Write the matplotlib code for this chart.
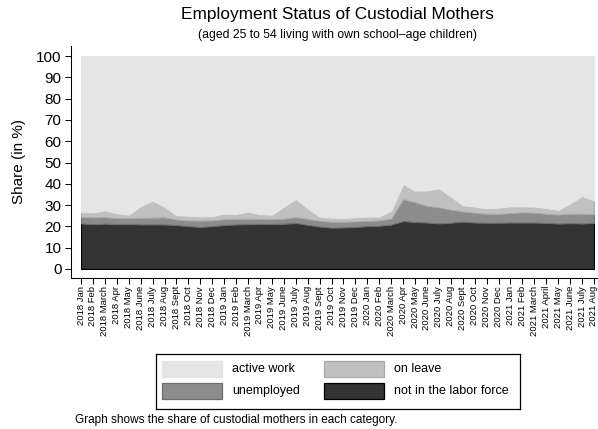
import matplotlib
matplotlib.use("Agg")
import matplotlib.pyplot as plt
from matplotlib.patches import Rectangle

plt.rcParams["font.family"] = ["Liberation Sans", "DejaVu Sans"]

months = [
    "2018 Jan", "2018 Feb", "2018 March", "2018 Apr", "2018 May", "2018 June",
    "2018 July", "2018 Aug", "2018 Sept", "2018 Oct", "2018 Nov", "2018 Dec",
    "2019 Jan", "2019 Feb", "2019 March", "2019 Apr", "2019 May", "2019 June",
    "2019 July", "2019 Aug", "2019 Sept", "2019 Oct", "2019 Nov", "2019 Dec",
    "2020 Jan", "2020 Feb", "2020 March", "2020 Apr", "2020 May", "2020 June",
    "2020 July", "2020 Aug", "2020 Sept", "2020 Oct", "2020 Nov", "2020 Dec",
    "2021 Jan", "2021 Feb", "2021 March", "2021 April", "2021 May", "2021 June",
    "2021 July", "2021 Aug",
]

# shares in % (bottom to top)
not_in_labor_force = [
    21.4, 21.0, 21.3, 21.0, 21.1, 20.9, 20.9, 20.9, 20.6, 20.1, 19.7, 20.1,
    20.6, 20.9, 21.0, 21.1, 21.1, 21.2, 21.6, 20.7, 19.9, 19.4, 19.5, 19.7,
    20.1, 20.3, 20.8, 22.5, 22.0, 21.8, 21.4, 21.7, 22.2, 21.8, 21.7, 21.7,
    21.8, 21.8, 21.8, 21.6, 21.3, 21.5, 21.3, 21.7,
]
unemployed = [
    3.0, 3.2, 3.0, 2.9, 2.7, 3.1, 3.2, 3.3, 2.6, 2.7, 3.0, 2.7,
    2.7, 2.6, 2.6, 2.3, 2.2, 2.4, 2.7, 2.8, 2.7, 2.7, 2.6, 2.6,
    2.4, 2.5, 2.8, 10.3, 9.3, 7.8, 7.5, 6.1, 4.8, 4.6, 4.2, 4.1,
    4.4, 4.8, 4.6, 4.3, 4.2, 4.4, 4.6, 4.0,
]
on_leave = [
    2.4, 2.4, 3.2, 2.3, 1.7, 5.5, 8.0, 5.1, 2.1, 2.2, 2.0, 2.0,
    2.7, 2.3, 3.4, 2.4, 2.2, 5.7, 8.5, 5.0, 2.0, 2.0, 1.8, 2.0,
    2.1, 1.8, 3.8, 7.1, 5.5, 7.3, 9.0, 6.2, 3.0, 2.9, 2.6, 3.0,
    3.2, 2.8, 2.9, 2.7, 2.2, 4.9, 8.4, 6.4,
]
active_work = [
    73.2, 73.4, 72.5, 73.8, 74.5, 70.5, 67.9, 70.7, 74.7, 75.0, 75.3, 75.2,
    74.0, 74.2, 73.0, 74.2, 74.5, 70.7, 67.2, 71.5, 75.4, 75.9, 76.1, 75.7,
    75.4, 75.4, 72.6, 60.1, 63.2, 63.1, 62.1, 66.0, 70.0, 70.7, 71.5, 71.2,
    70.6, 70.6, 70.7, 71.4, 72.3, 69.2, 65.7, 67.9,
]

labels = ["not in the labor force", "unemployed", "on leave", "active work"]
fills = ["#333333", "#8c8c8c", "#c0c0c0", "#e5e5e5"]
edges = ["#000000", "#6e6e6e", "#a9a9a9", "#e5e5e5"]

W, H = 598, 429
fig = plt.figure(figsize=(W / 100, H / 100), dpi=100)
ax = fig.add_axes([81 / W, (H - 269) / H, (594 - 81) / W, (269 - 56) / H])

x = list(range(len(months)))
polys = ax.stackplot(x, not_in_labor_force, unemployed, on_leave, active_work,
                     colors=fills)
for p, ec in zip(polys, edges):
    p.set_edgecolor(ec)
    p.set_linewidth(0.9)

# spines first: moving them resets the tick objects
for s in ["top", "right"]:
    ax.spines[s].set_visible(False)
ax.spines["left"].set_position(("outward", 7.2))
ax.spines["bottom"].set_position(("outward", 6.5))
for s in ["left", "bottom"]:
    ax.spines[s].set_linewidth(0.75)

ax.set_xlim(0, len(months) - 1)
ax.set_ylim(0, 100)
ax.spines["left"].set_bounds(-4.2, 104.7)
ax.spines["bottom"].set_bounds(-0.84, 43.25)
ax.set_yticks(range(0, 101, 10))
ax.set_xticks(x)
ax.set_xticklabels(months)
ax.tick_params(axis="y", labelsize=11, length=4.3, width=0.75, pad=2.5)
ax.tick_params(axis="x", labelsize=6.8, labelrotation=90, length=4.3,
               width=0.75, pad=1.5)

fig.text(337.5 / W, 1 - 15 / H, "Employment Status of Custodial Mothers",
         ha="center", va="center", fontsize=12.4)
fig.text(337.5 / W, 1 - 35 / H,
         "(aged 25 to 54 living with own school\u2013age children)",
         ha="center", va="center", fontsize=8.8)
fig.text(19 / W, 1 - 162 / H, "Share (in %)", rotation=90,
         ha="center", va="center", fontsize=11)
fig.text(75 / W, 1 - 420 / H,
         "Graph shows the share of custodial mothers in each category.",
         ha="left", va="center", fontsize=8.5)

# legend
lax = fig.add_axes([156 / W, (H - 409) / H, (520 - 156) / W, (409 - 354) / H])
lax.set_xlim(156, 520)
lax.set_ylim(409, 354)
lax.set_xticks([])
lax.set_yticks([])
for s in lax.spines.values():
    s.set_linewidth(0.9)

order = [3, 2, 1, 0]
slots = [(162, 361), (324, 361), (162, 383), (324, 383)]
for k, (sx, sy) in zip(order, slots):
    lax.add_patch(Rectangle((sx, sy), 60, 16, facecolor=fills[k],
                            edgecolor=edges[k], linewidth=0.9))
    lax.text(sx + 70, sy + 8, labels[k], ha="left", va="center", fontsize=9)

fig.savefig("out.png", dpi=100)
